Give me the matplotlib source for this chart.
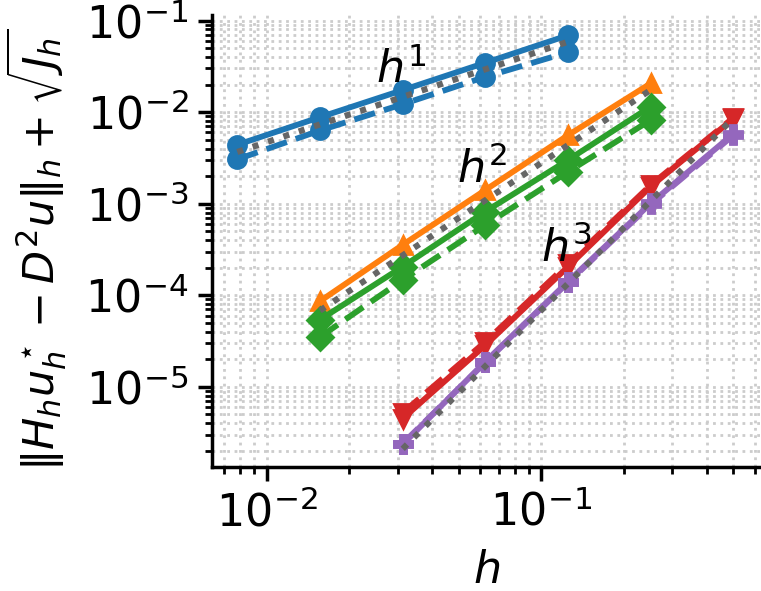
import matplotlib
matplotlib.use("Agg")
import matplotlib.pyplot as plt

# mesh sizes
h_coarse = [1/128, 1/64, 1/32, 1/16, 1/8]
h_mid = [1/64, 1/32, 1/16, 1/8, 1/4]
h_fine = [1/32, 1/16, 1/8, 1/4, 1/2]

# errors
blue_solid = [4.4e-3, 8.8e-3, 1.74e-2, 3.46e-2, 6.9e-2]
blue_dashed = [3.05e-3, 6.3e-3, 1.22e-2, 2.43e-2, 4.5e-2]
orange_solid = [8.6e-5, 3.55e-4, 1.41e-3, 5.6e-3, 2.06e-2]
green_solid = [5.4e-5, 2.05e-4, 8.2e-4, 3.0e-3, 1.15e-2]
green_dashed = [3.5e-5, 1.47e-4, 5.85e-4, 2.23e-3, 8.2e-3]
red_solid = [4.5e-6, 2.85e-5, 2.05e-4, 1.54e-3, 8.5e-3]
red_dashed = [5.2e-6, 3.1e-5, 2.2e-4, 1.6e-3, 8.7e-3]
purple_solid = [2.35e-6, 1.88e-5, 1.41e-4, 1.01e-3, 5.8e-3]
purple_dashed = [2.4e-6, 1.85e-5, 1.38e-4, 9.8e-4, 5.6e-3]

# reference slopes (end points only, straight in log-log)
ref1_h = [1/128, 1/8]
ref1 = [3.67e-3, 5.87e-2]
ref2_h = [1/64, 1/4]
ref2 = [6.8e-5, 1.75e-2]
ref3_h = [1/32, 1/2]
ref3 = [2.1e-6, 8.6e-3]

plt.rcParams["font.size"] = 16
plt.rcParams["mathtext.fontset"] = "dejavusans"

fig = plt.figure(figsize=(761/200, 591/200), dpi=200)
ax = fig.add_axes([212/761, 124/591, 549/761, 452/591])

lw = 2.1
ms = 6.5
ax.loglog(h_coarse, blue_solid, "-o", color="C0", lw=lw, ms=ms)
ax.loglog(h_coarse, blue_dashed, "--o", color="C0", lw=lw, ms=ms)
ax.loglog(h_mid, orange_solid, "-^", color="C1", lw=lw, ms=ms)
ax.loglog(h_mid, green_solid, "-D", color="C2", lw=lw, ms=ms)
ax.loglog(h_mid, green_dashed, "--D", color="C2", lw=lw, ms=ms)
ax.loglog(h_fine, red_solid, "-v", color="C3", lw=lw, ms=ms)
ax.loglog(h_fine, red_dashed, "--v", color="C3", lw=lw, ms=ms)
ax.loglog(h_fine, purple_solid, "-P", color="C4", lw=lw, ms=ms)
ax.loglog(h_fine, purple_dashed, "--P", color="C4", lw=lw, ms=ms)

for rh, rv in [(ref1_h, ref1), (ref2_h, ref2), (ref3_h, ref3)]:
    ax.loglog(rh, rv, ":", color="0.4", lw=2.2, zorder=3)

ax.text(0.0309, 0.0288, r"$h^1$", fontsize=16, ha="center", va="center")
ax.text(0.061, 2.33e-3, r"$h^2$", fontsize=16, ha="center", va="center")
ax.text(0.123, 3.2e-4, r"$h^3$", fontsize=16, ha="center", va="center")

ax.set_xlim(0.00632, 0.63)
ax.set_ylim(1.33e-6, 0.115)
ax.grid(True, which="both", linestyle=":", color="0.8", lw=1)
ax.set_axisbelow(True)

for side in ["top", "right"]:
    ax.spines[side].set_visible(False)
for side in ["left", "bottom"]:
    ax.spines[side].set_linewidth(1.25)
ax.tick_params(which="major", length=5, width=1.25)
ax.tick_params(which="minor", length=2.6, width=1)

ax.set_xlabel(r"$h$", labelpad=5)
ax.set_ylabel(r"$\|H_h u_h^\star - D^2 u\|_h + \sqrt{J_h}$",
              fontsize=15.5, labelpad=6)
ax.yaxis.label.set_y(0.48)

fig.savefig("out.png", dpi=200)
